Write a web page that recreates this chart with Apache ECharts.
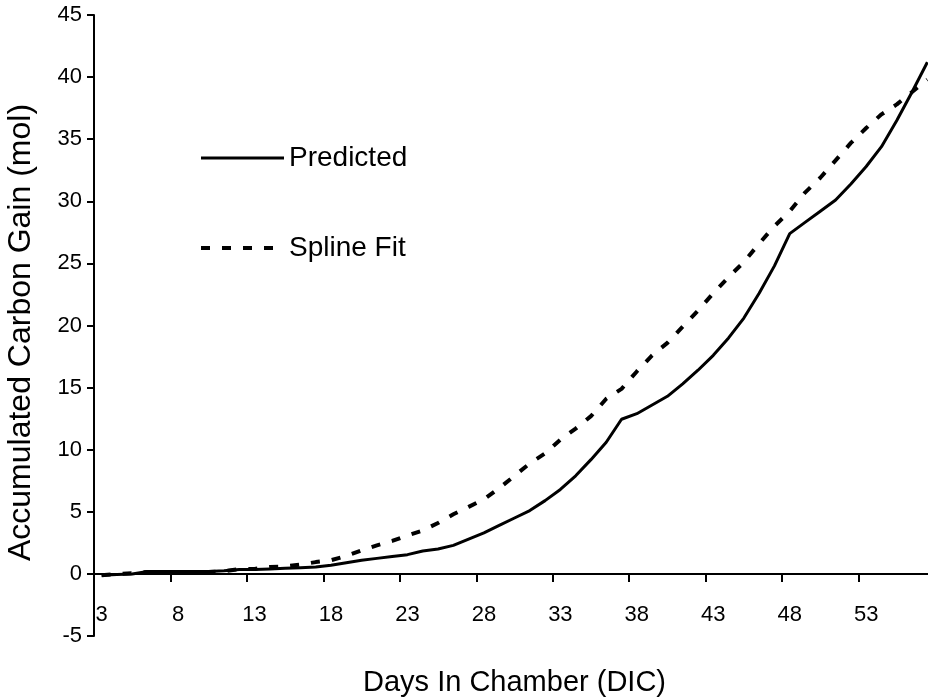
<!DOCTYPE html>
<html>
<head>
<meta charset="utf-8">
<script src="https://cdn.jsdelivr.net/npm/echarts@6/dist/echarts.min.js"></script>
<style>
  html, body { margin: 0; padding: 0; background: #fff; }
  #chart { width: 928px; height: 700px; }
</style>
</head>
<body>
<div id="chart"></div>
<script>
// Days in chamber (one category per day)
const days = [3, 4, 5, 6, 7, 8, 9, 10, 11, 12, 13, 14, 15, 16, 17, 18, 19, 20, 21, 22,
  23, 24, 25, 26, 27, 28, 29, 30, 31, 32, 33, 34, 35, 36, 37, 38, 39, 40, 41, 42,
  43, 44, 45, 46, 47, 48, 49, 50, 51, 52, 53, 54, 55, 56, 57];

// Accumulated carbon gain (mol), model prediction
const predicted = [-0.1, -0.05, 0, 0.2, 0.2, 0.2, 0.2, 0.2, 0.25, 0.35, 0.35, 0.4, 0.45, 0.5, 0.55,
  0.7, 0.9, 1.1, 1.25, 1.4, 1.55, 1.85, 2.0, 2.3, 2.8, 3.3, 3.9, 4.5, 5.1, 5.9,
  6.8, 7.9, 9.2, 10.6, 12.45, 12.9, 13.6, 14.3, 15.3, 16.4, 17.6, 19.0, 20.6, 22.6, 24.8,
  27.4, 28.3, 29.2, 30.1, 31.4, 32.8, 34.4, 36.5, 38.8, 41.2];

// Accumulated carbon gain (mol), spline fit
const splineFit = [-0.1, 0, 0.05, 0.15, 0.15, 0.15, 0.15, 0.15, 0.2, 0.4, 0.4, 0.55, 0.6, 0.75, 0.95,
  1.1, 1.45, 1.9, 2.3, 2.65, 3.1, 3.5, 4.1, 4.8, 5.4, 6.0, 6.9, 7.9, 8.9, 9.7,
  10.8, 11.7, 12.7, 14.1, 14.9, 16.3, 17.6, 18.6, 19.9, 21.2, 22.6, 23.9, 25.1, 26.6, 28.0,
  29.2, 30.7, 31.9, 33.3, 34.7, 35.9, 37.0, 37.8, 38.8, 39.8];

const Y_MIN = -5, Y_MAX = 45, Y_STEP = 5;
const FONT = '"Liberation Sans", Arial, sans-serif';

const SOLID = { color: '#000', width: 3, type: 'solid' };
const DASHED = { color: '#000', width: 4, type: [9, 12] };

const chart = echarts.init(document.getElementById('chart'), null, { renderer: 'canvas' });

const gridTop = 15, gridBottom = 64, chartH = 700;
// distance from the bottom of the plot (y = Y_MIN) up to the y = 0 line
const zeroOffset = (chartH - gridTop - gridBottom) * (0 - Y_MIN) / (Y_MAX - Y_MIN);

chart.setOption({
  animation: false,
  backgroundColor: '#ffffff',
  textStyle: { fontFamily: FONT, color: '#000' },
  grid: { left: 94, right: -7, top: gridTop, bottom: gridBottom, containLabel: false, outerBoundsMode: 'none' },
  legend: {
    data: [
      { name: 'Predicted', lineStyle: SOLID, itemStyle: { opacity: 0 } },
      { name: 'Spline Fit', lineStyle: DASHED, itemStyle: { opacity: 0 } }
    ],
    orient: 'vertical',
    left: 194,
    top: 139,
    itemWidth: 83,
    itemHeight: 20,
    itemGap: 62,
    itemStyle: { opacity: 0 },
    textStyle: { fontFamily: FONT, fontSize: 28, color: '#000' }
  },
  xAxis: {
    type: 'category',
    data: days,
    boundaryGap: true,
    position: 'bottom',
    offset: -zeroOffset,
    name: 'Days In Chamber (DIC)',
    nameLocation: 'middle',
    nameGap: 95,
    nameTextStyle: { fontFamily: FONT, fontSize: 29, color: '#000' },
    axisLine: { onZero: false, lineStyle: { color: '#000', width: 2 } },
    axisTick: { show: true, interval: 4, length: 8, lineStyle: { color: '#000', width: 2 } },
    axisLabel: { interval: 4, margin: 30, fontFamily: FONT, fontSize: 22, color: '#000' },
    splitLine: { show: false }
  },
  yAxis: {
    type: 'value',
    min: Y_MIN,
    max: Y_MAX,
    interval: Y_STEP,
    name: 'Accumulated Carbon Gain (mol)',
    nameLocation: 'middle',
    nameGap: 57,
    nameTextStyle: { fontFamily: FONT, fontSize: 32, color: '#000', padding: [0, 14, 0, 0] },
    axisLine: { show: true, lineStyle: { color: '#000', width: 2 } },
    axisTick: { show: true, length: 7, lineStyle: { color: '#000', width: 2 } },
    axisLabel: { margin: 12, fontFamily: FONT, fontSize: 22, color: '#000' },
    splitLine: { show: false }
  },
  series: [
    {
      name: 'Predicted',
      type: 'line',
      data: predicted,
      symbol: 'none',
      lineStyle: SOLID,
      itemStyle: { color: '#000' }
    },
    {
      name: 'Spline Fit',
      type: 'line',
      data: splineFit,
      symbol: 'none',
      lineStyle: DASHED,
      itemStyle: { color: '#000' }
    }
  ]
});
</script>
</body>
</html>
